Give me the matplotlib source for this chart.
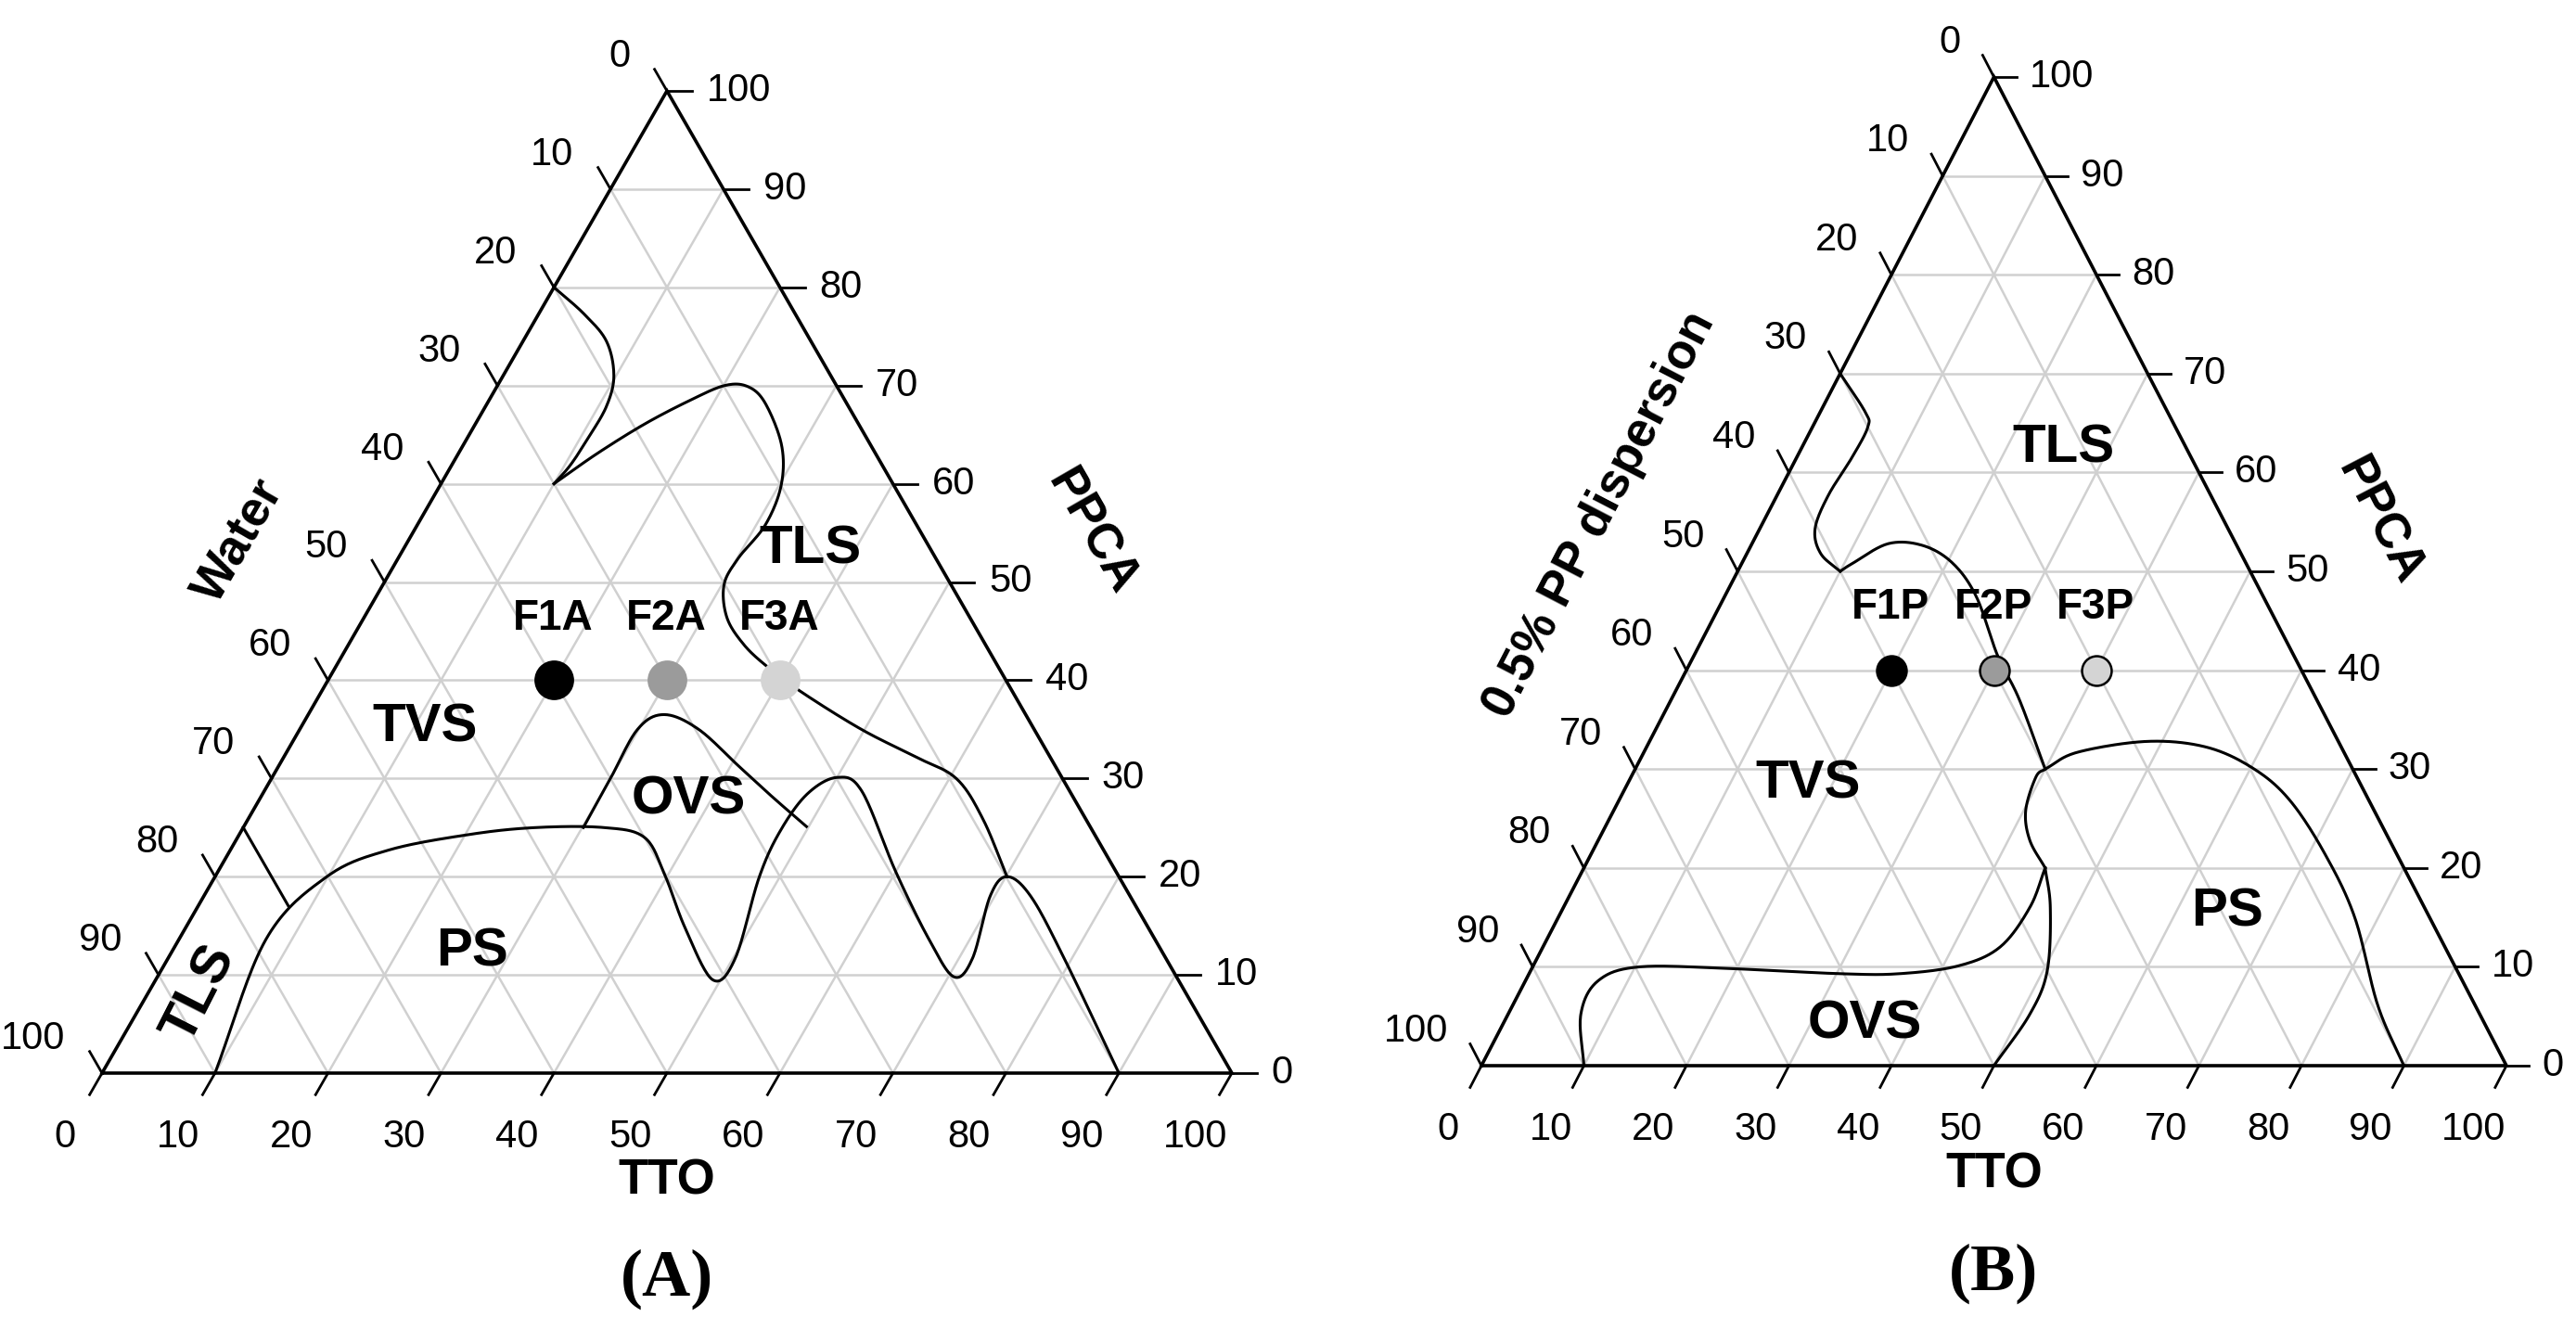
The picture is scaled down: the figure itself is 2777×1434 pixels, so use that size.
import numpy as np
import matplotlib
matplotlib.use("Agg")
import matplotlib.pyplot as plt

plt.rcParams['font.family'] = ['Liberation Sans', 'DejaVu Sans']

# ---------------- data (TTO %, PPCA %) ----------------
ticks = [0, 10, 20, 30, 40, 50, 60, 70, 80, 90, 100]

formA_names = ["F1A", "F2A", "F3A"]
formB_names = ["F1P", "F2P", "F3P"]
form_tto = [20, 30, 40]
form_ppca = [40, 40, 40]
form_colors = ["#000000", "#9b9b9b", "#d4d4d4"]

# Panel A boundaries
A_curve1_tto = [0, 4.0, 7.4, 9.8, 10.7, 10.7, 10.5, 10]
A_curve1_ppca = [80, 77.3, 74.5, 71, 67.9, 64.7, 61.9, 60]
A_curve2_tto = [10, 12.3, 15, 17.8, 20.1, 22.2, 24.6, 28.2, 30.2, 30.8, 30.1, 30.2, 32.1, 34.9, 38.0, 42.5, 49.7, 55.9, 60.6, 65, 70.1]
A_curve2_ppca = [60, 63.1, 66.1, 68.5, 70, 69.9, 68.2, 63.9, 59.8, 55.8, 52.4, 49.7, 46.4, 43.7, 41.5, 38.8, 35, 32.2, 30, 25.9, 20]
A_ps_tto = [10, 7.7, 9.9, 14, 20.4, 25.9, 31.9, 36, 39.7, 44.2, 49.3, 50.2, 48.2, 47.7, 48.2, 50, 52.9, 60, 66.4, 70.5, 71.2, 69.6, 70.1, 73.2, 79.3, 90]
A_ps_ppca = [0, 13.6, 20, 22.7, 24.3, 25, 25, 24, 20.2, 14.8, 9.5, 11.7, 19.9, 24.6, 28.4, 30.1, 28.7, 20.5, 13.6, 9.8, 11.7, 18, 20, 18, 11.7, 0]
A_ovs_tto = [30.1, 30, 29.9, 31.5, 35.3, 40.8, 45.3, 49.8]
A_ovs_ppca = [25, 30, 35, 36.5, 35, 31.2, 28.1, 25.1]
A_tls_tto = [0, 8]
A_tls_ppca = [25, 17]

# Panel B boundaries
B_curve1_tto = [0, 4.4, 5.4, 5.4, 5.0, 5.4, 7.2, 10]
B_curve1_ppca = [70, 66.1, 64.6, 61.6, 57.7, 54.3, 51.8, 50]
B_curve2_tto = [10, 10.8, 13.3, 16.8, 20.6, 24.6, 29.6, 33.9, 40]
B_curve2_ppca = [50, 50.8, 52.8, 52.6, 50.8, 47.4, 41.5, 37.1, 30]
B_ps_tto = [40, 42.3, 48.6, 54.7, 60.4, 65.5, 71.6, 77.7, 84.4, 90]
B_ps_ppca = [30, 31.7, 32.8, 32.2, 30, 26.8, 21.4, 15, 6.1, 0]
B_loop_tto = [40, 39.5, 40.2, 42.1, 45]
B_loop_ppca = [30, 29.2, 25.8, 22.8, 20]
B_ovs_tto = [45, 45.5, 44.6, 41.5, 36.1, 30.4, 19.8, 10.5, 7.1, 7.1, 10]
B_ovs_ppca = [20, 16, 12, 10.1, 9.3, 9.3, 9.8, 10, 8.6, 5.2, 0]
B_down_tto = [45, 47.5, 50.4, 50.9, 50]
B_down_ppca = [20, 16, 9.6, 5.2, 0]

# region labels: (text, tto, ppca)
A_regions = [("TLS", 36, 53.3), ("TVS", 11, 35.2), ("PS", 26.6, 12.3), ("OVS", 38, 27.8)]
B_regions = [("TLS", 25.6, 62.4), ("TVS", 17.6, 28.5), ("PS", 65, 15.5), ("OVS", 35.3, 4.2)]

# ---------------- figure ----------------
fig = plt.figure(figsize=(27.77, 14.34), dpi=100)
ax = fig.add_axes([0, 0, 1, 1])
ax.set_xlim(0, 2777)
ax.set_ylim(0, 1434)
ax.axis('off')


def catmull(xs, ys, n=20):
    P = np.column_stack([xs, ys]).astype(float)
    if len(P) < 3:
        return P[:, 0], P[:, 1]
    P = np.vstack([2 * P[0] - P[1], P, 2 * P[-1] - P[-2]])
    out = []
    for i in range(1, len(P) - 2):
        p0, p1, p2, p3 = P[i - 1], P[i], P[i + 1], P[i + 2]
        for s in np.linspace(0, 1, n, endpoint=False):
            out.append(0.5 * ((2 * p1) + (-p0 + p2) * s + (2 * p0 - 5 * p1 + 4 * p2 - p3) * s ** 2
                              + (-p0 + 3 * p1 - 3 * p2 + p3) * s ** 3))
    out.append(P[-2])
    out = np.array(out)
    return out[:, 0], out[:, 1]


def panel(x0, y0, W, H, curves, regions, names, mk, mec, left_title, left_rot, label):
    def cart(t, p):
        t = np.asarray(t, float); p = np.asarray(p, float)
        return x0 + (t / 100 + p / 200) * W, y0 + p / 100 * H

    def frac(xf, yf):
        return x0 + xf * W, y0 + yf * H

    for v in range(10, 100, 10):
        for (ta, pa, tb, pb) in [(v, 0, v, 100 - v), (0, v, 100 - v, v), (100 - v, 0, 0, 100 - v)]:
            xs, ys = cart([ta, tb], [pa, pb])
            ax.plot(xs, ys, color="#d0d0d0", lw=1.8, zorder=1)
    xs, ys = cart([0, 100, 0, 0], [0, 0, 100, 0])
    ax.plot(xs, ys, color="black", lw=2.6, zorder=3, solid_joinstyle='miter')
    L = 2.2
    for v in ticks:
        xs, ys = cart([v, v], [0, -L])
        ax.plot(xs, ys, color="black", lw=2, zorder=3)
        tx, ty = cart(v, -6.5)
        ax.text(tx, ty, str(v), ha="center", va="center", fontsize=30)
        xs, ys = cart([100 - v, 100 - v + L], [v, v])
        ax.plot(xs, ys, color="black", lw=2, zorder=3)
        tx, ty = cart(100 - v + 3.5, v)
        ax.text(tx, ty, str(v), ha="left", va="center", fontsize=30)
        xs, ys = cart([0, -L], [100 - v, 100 - v + L])
        ax.plot(xs, ys, color="black", lw=2, zorder=3)
        tx, ty = cart(-5.0, 100 - v + 3.5)
        ax.text(tx, ty, str(v), ha="right", va="center", fontsize=30)

    for (tt, pp) in curves:
        X, Y = cart(tt, pp)
        sx, sy = catmull(X, Y)
        ax.plot(sx, sy, color="black", lw=2.2, zorder=4)

    for (txt, tt, pp) in regions:
        X, Y = cart(tt, pp)
        ax.text(X, Y, txt, ha="center", va="center", fontsize=42, fontweight="bold", zorder=6)

    for nm, tt, pp, c in zip(names, form_tto, form_ppca, form_colors):
        X, Y = cart(tt, pp)
        ax.plot(X, Y, 'o', ms=mk, color=c, mec=(mec if mec else c), mew=1.8, zorder=7)
        X2, Y2 = cart(tt - 3.2, pp + 6.3)
        ax.text(X2, Y2, nm, ha="center", va="center", fontsize=33, fontweight="bold", zorder=6)

    lt = left_title
    ax.text(*frac(lt[1], lt[2]), lt[0], rotation=left_rot, ha="center", va="center",
            fontsize=38, fontweight="bold")
    ax.text(*frac(0.876, 0.55), "PPCA", rotation=-left_rot, ha="center", va="center",
            fontsize=38, fontweight="bold")
    ax.text(*frac(0.50, -0.11), "TTO", ha="center", va="center", fontsize=38, fontweight="bold")
    ax.text(*frac(0.50, -0.21), label, ha="center", va="center", fontsize=52, fontweight="bold",
            family=["Liberation Serif", "DejaVu Serif"])
    return cart


curvesA = [(A_curve1_tto, A_curve1_ppca), (A_curve2_tto, A_curve2_ppca), (A_ps_tto, A_ps_ppca),
           (A_ovs_tto, A_ovs_ppca), (A_tls_tto, A_tls_ppca)]
curvesB = [(B_curve1_tto, B_curve1_ppca), (B_curve2_tto, B_curve2_ppca), (B_ps_tto, B_ps_ppca),
           (B_loop_tto, B_loop_ppca), (B_ovs_tto, B_ovs_ppca), (B_down_tto, B_down_ppca)]

cartA = panel(110, 277, 1218, 1059, curvesA, A_regions, formA_names, 29, None,
              ("Water", 0.121, 0.542), 60, "(A)")
xA, yA = cartA(4.7, 8)
ax.text(xA, yA, "TLS", rotation=63, ha="center", va="center", fontsize=42, fontweight="bold")

angB = np.degrees(np.arctan2(1066, 1105 / 2))
panel(1597, 285, 1105, 1066, curvesB, B_regions, formB_names, 23, "black",
      ("0.5% PP dispersion", 0.115, 0.557), angB, "(B)")

fig.savefig("out.png", dpi=100)
